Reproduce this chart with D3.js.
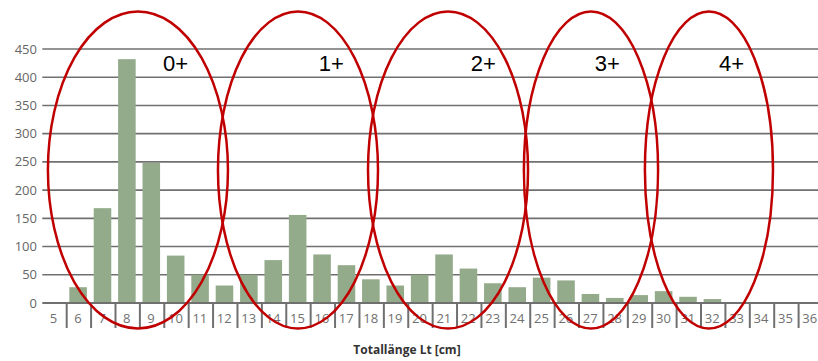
<!DOCTYPE html>
<html>
<head>
<meta charset="utf-8">
<script src="https://cdn.jsdelivr.net/npm/d3@7"></script>
<style>
  body { margin: 0; background: #fff; }
  svg { display: block; }
</style>
</head>
<body>
<div id="chart"></div>
<script>
// length classes (cm) and counts
const lengths = d3.range(5, 37).map(String);
const counts = [0, 28, 168, 432, 248, 84, 50, 31, 50, 76, 156, 86, 67, 42, 31, 50,
  86, 61, 35, 28, 45, 40, 16, 9, 14, 21, 11, 7, 0, 0, 0, 0];
const yTicks = [0, 50, 100, 150, 200, 250, 300, 350, 400, 450];

// age groups, ring spans in cm, label spot in cm
const ageGroups = ["0+", "1+", "2+", "3+", "4+"];
const groupFrom = [4.73, 11.70, 17.85, 24.24, 29.20];
const groupTo = [12.11, 18.26, 24.41, 29.74, 34.45];
const labelAt = [9.96, 16.35, 22.58, 27.66, 32.75];

const width = 818, height = 361;
const left = 42.3, right = 823, baseY = 303, topY = 49;

const svg = d3.select("#chart")
  .append("svg")
  .attr("width", width)
  .attr("height", height);

const x = d3.scaleBand()
  .domain(lengths)
  .range([left, right])
  .paddingInner(0.28)
  .paddingOuter(0.14);

const xLin = d3.scaleLinear()
  .domain([4.5, 36.5])
  .range([left, right]);

const y = d3.scaleLinear()
  .domain([0, 450])
  .range([baseY, topY]);

// grid
svg.append("g")
  .selectAll("line")
  .data(yTicks.filter(d => d > 0))
  .join("line")
  .attr("x1", left)
  .attr("x2", width)
  .attr("y1", d => y(d))
  .attr("y2", d => y(d))
  .attr("stroke", "#707070")
  .attr("stroke-width", 1.6);

// y labels
svg.append("g")
  .selectAll("text")
  .data(yTicks)
  .join("text")
  .attr("x", 37)
  .attr("y", d => y(d))
  .attr("dy", "0.35em")
  .attr("text-anchor", "end")
  .attr("font-family", "Open Sans")
  .attr("font-size", 13)
  .attr("fill", "#666")
  .text(d => d);

// bars
svg.append("g")
  .selectAll("rect")
  .data(counts)
  .join("rect")
  .attr("x", (d, i) => x(lengths[i]) - 0.8)
  .attr("width", x.bandwidth())
  .attr("y", d => y(d))
  .attr("height", d => baseY - y(d))
  .attr("fill", "#94ab8b");

// x axis line and separators
svg.append("line")
  .attr("x1", left)
  .attr("x2", width)
  .attr("y1", baseY)
  .attr("y2", baseY)
  .attr("stroke", "#707070")
  .attr("stroke-width", 2);

svg.append("g")
  .selectAll("line")
  .data(lengths.slice(1))
  .join("line")
  .attr("x1", d => xLin(+d - 0.5))
  .attr("x2", d => xLin(+d - 0.5))
  .attr("y1", baseY)
  .attr("y2", 328)
  .attr("stroke", "#707070")
  .attr("stroke-width", 2);

svg.append("g")
  .selectAll("text")
  .data(lengths)
  .join("text")
  .attr("x", d => xLin(+d) - 1)
  .attr("y", 318)
  .attr("dy", "0.35em")
  .attr("text-anchor", "middle")
  .attr("font-family", "Open Sans")
  .attr("font-size", 13)
  .attr("fill", "#707070")
  .text(d => d);

svg.append("text")
  .attr("x", 407)
  .attr("y", 354)
  .attr("text-anchor", "middle")
  .attr("font-family", "Open Sans")
  .attr("font-weight", "bold")
  .attr("font-size", 12)
  .attr("fill", "#333")
  .text("Totallänge Lt [cm]");

// age group rings
svg.append("g")
  .selectAll("ellipse")
  .data(ageGroups)
  .join("ellipse")
  .attr("cx", (d, i) => (xLin(groupFrom[i]) + xLin(groupTo[i])) / 2)
  .attr("cy", 170)
  .attr("rx", (d, i) => (xLin(groupTo[i]) - xLin(groupFrom[i])) / 2)
  .attr("ry", 158.5)
  .attr("fill", "none")
  .attr("stroke", "#c00000")
  .attr("stroke-width", 2.5);

svg.append("g")
  .selectAll("text")
  .data(ageGroups)
  .join("text")
  .attr("x", (d, i) => xLin(labelAt[i]))
  .attr("y", 71)
  .attr("text-anchor", "middle")
  .attr("font-family", "Liberation Sans")
  .attr("font-size", 22)
  .attr("fill", "#000")
  .text(d => d);
</script>
</body>
</html>
